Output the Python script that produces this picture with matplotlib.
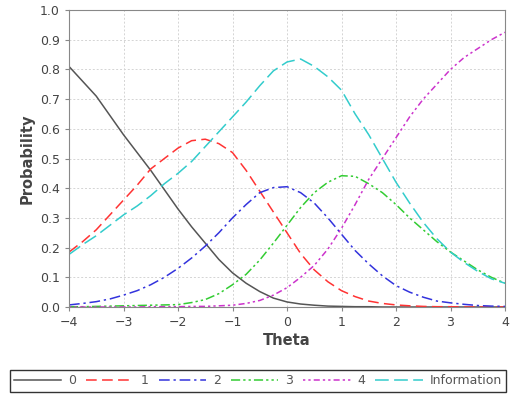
import numpy as np
import matplotlib
matplotlib.use("Agg")
import matplotlib.pyplot as plt

theta = np.arange(-4, 4.01, 0.25)

p0 = [0.81, 0.76, 0.71, 0.645, 0.58, 0.52, 0.46, 0.395, 0.33, 0.27, 0.215, 0.16, 0.115, 0.08, 0.052, 0.03,
      0.017, 0.01, 0.006, 0.003, 0.002, 0.001, 0.001, 0.0, 0.0, 0.0, 0.0, 0.0, 0.0, 0.0, 0.0, 0.0, 0.0]
p1 = [0.185, 0.22, 0.26, 0.31, 0.36, 0.41, 0.465, 0.50, 0.535, 0.56, 0.565, 0.55, 0.52, 0.46, 0.39, 0.32,
      0.25, 0.18, 0.125, 0.085, 0.055, 0.035, 0.02, 0.012, 0.007, 0.004, 0.002, 0.001, 0.001, 0.0, 0.0, 0.0, 0.0]
p2 = [0.007, 0.012, 0.018, 0.027, 0.04, 0.055, 0.075, 0.10, 0.13, 0.165, 0.205, 0.25, 0.30, 0.345, 0.385, 0.402,
      0.405, 0.385, 0.35, 0.30, 0.245, 0.19, 0.145, 0.105, 0.072, 0.05, 0.033, 0.02, 0.014, 0.009, 0.005, 0.003, 0.002]
p3 = [0.001, 0.001, 0.002, 0.003, 0.004, 0.005, 0.006, 0.007, 0.008, 0.015, 0.025, 0.045, 0.075, 0.11, 0.158, 0.215,
      0.275, 0.335, 0.385, 0.42, 0.442, 0.44, 0.415, 0.385, 0.345, 0.30, 0.26, 0.22, 0.185, 0.155, 0.125, 0.10, 0.08]
p4 = [0.0, 0.0, 0.0, 0.0, 0.0, 0.0, 0.001, 0.001, 0.001, 0.002, 0.002, 0.004, 0.006, 0.012, 0.022, 0.04,
      0.065, 0.10, 0.14, 0.195, 0.265, 0.345, 0.43, 0.50, 0.57, 0.64, 0.70, 0.75, 0.80, 0.84, 0.87, 0.90, 0.925]
info = [0.177, 0.21, 0.24, 0.275, 0.31, 0.34, 0.375, 0.415, 0.45, 0.49, 0.54, 0.59, 0.64, 0.69, 0.745, 0.795,
        0.825, 0.835, 0.81, 0.775, 0.73, 0.65, 0.58, 0.50, 0.42, 0.35, 0.285, 0.23, 0.185, 0.15, 0.12, 0.095, 0.08]

labels = ["0", "1", "2", "3", "4", "Information"]
series = [p0, p1, p2, p3, p4, info]
colors = ["#555555", "#ff3333", "#3333dd", "#33cc33", "#cc33cc", "#33cccc"]
dashes = [None, (7, 3.5), (7, 2.5, 1.5, 2.5), (6, 2, 1.5, 2, 1.5, 2),
          (1.5, 2, 1.5, 2, 4, 2), (9, 3.5)]

fig = plt.figure(figsize=(5.14, 3.96), dpi=100)
ax = fig.add_axes([69/514, 1-307/396, 436/514, 297/396])

for y, c, d, lab in zip(series, colors, dashes, labels):
    if d is None:
        ax.plot(theta, y, color=c, lw=1.1, label=lab)
    else:
        ax.plot(theta, y, color=c, lw=1.1, dashes=d, label=lab)

ax.set_xlim(-4, 4)
ax.set_ylim(0, 1.0)
ax.set_xticks(range(-4, 5))
ax.set_yticks(np.arange(0, 1.01, 0.1))
ax.set_yticklabels([f"{v:.1f}" for v in np.arange(0, 1.01, 0.1)])
ax.grid(True, color="#d4d4d4", linestyle=(0, (2, 2)), lw=0.7)
ax.set_axisbelow(True)
for s in ax.spines.values():
    s.set_color("#888888")
ax.tick_params(colors="#888888", labelcolor="#444444", labelsize=9, length=3)
ax.set_xlabel("Theta", fontsize=10.5, fontweight="bold", color="#444444", labelpad=3)
ax.set_ylabel("Probability", fontsize=10.5, fontweight="bold", color="#444444", labelpad=4)

leg = fig.legend(loc="center", bbox_to_anchor=(258/514, 1-381/396), ncol=6, fontsize=9,
                 handlelength=3.8, handletextpad=0.55, columnspacing=0.8, frameon=True,
                 fancybox=False, borderpad=0.35, borderaxespad=0)
leg.get_frame().set_edgecolor("black")
leg.get_frame().set_linewidth(1.0)
for t in leg.get_texts():
    t.set_color("#555555")

fig.savefig("out.png", dpi=100)
